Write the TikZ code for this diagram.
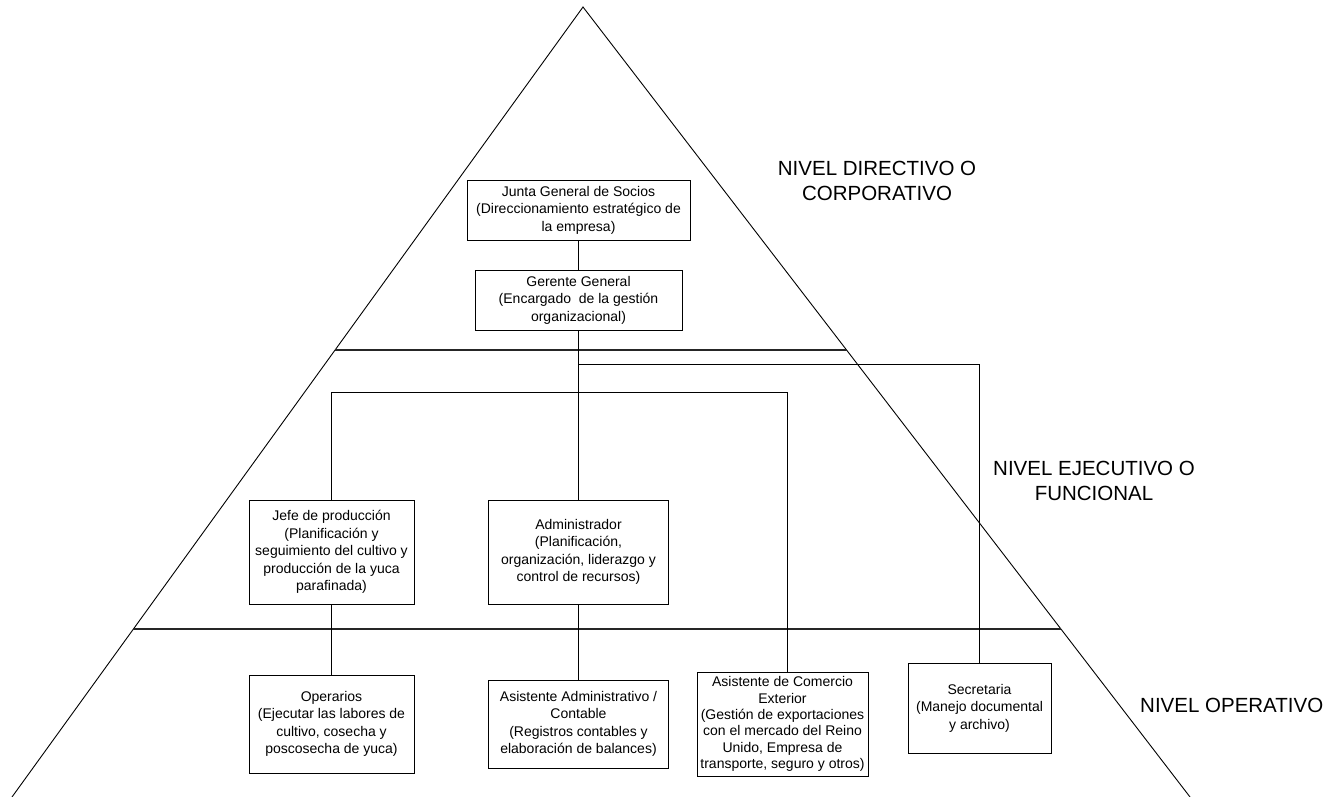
\documentclass[tikz,border=0pt]{standalone}
\usepackage{fontspec}
\setmainfont{Liberation Sans}
\usetikzlibrary{calc}
\begin{document}
\begin{tikzpicture}[x=1pt,y=-1pt,
  box/.style={draw=black, line width=0.9pt, fill=white, align=center, inner sep=0pt,
              font=\fontsize{14}{17.4}\selectfont},
  tightbox/.style={box, font=\fontsize{14}{16.4}\selectfont},
  link/.style={draw=black, line width=1pt},
  edge/.style={draw=black, line width=0.9pt},
  levelline/.style={draw=black!85, line width=1.1pt},
  level/.style={align=center, inner sep=0pt, font=\fontsize{20.5}{25.5}\selectfont}]

\useasboundingbox (0,0) rectangle (1327,797);

% pyramid outline
\coordinate (apex) at (583,7);
\coordinate (bl) at (12,797);
\coordinate (br) at (1190,797);
\draw[edge] (bl) -- (apex) -- (br);

% level separators, running between the two sides
\coordinate (l1a) at ($(apex)!0.4342!(bl)$);
\coordinate (l1b) at ($(apex)!0.4342!(br)$);
\coordinate (l2a) at ($(apex)!0.7873!(bl)$);
\coordinate (l2b) at ($(apex)!0.7873!(br)$);
\draw[levelline] (l1a) -- (l1b);
\draw[levelline] (l2a) -- (l2b);

% level names
\node[level] (lvdir) at (877,181) {NIVEL DIRECTIVO O\\CORPORATIVO};
\node[level] (lvejec) at (1094,481) {NIVEL EJECUTIVO O\\FUNCIONAL};
\node[level, anchor=west] (lvop) at (1140,705) {NIVEL OPERATIVO};

% positions
\node[box, minimum width=223pt, minimum height=60pt] (junta) at (578.5,210)
  {Junta General de Socios\\(Direccionamiento estratégico de\\la empresa)};
\node[box, minimum width=207pt, minimum height=60pt] (gerente) at (578.5,300)
  {Gerente General\\(Encargado\ \ de la gestión\\organizacional)};
\node[box, minimum width=165pt, minimum height=104pt] (jefe) at (331.5,552)
  {Jefe de producción\\(Planificación y\\seguimiento del cultivo y\\producción de la yuca\\parafinada)};
\node[box, minimum width=180pt, minimum height=104pt] (admin) at (578.5,552)
  {Administrador\\(Planificación,\\organización, liderazgo y\\control de recursos)};
\node[box, minimum width=165pt, minimum height=98pt] (operarios) at (331.5,724)
  {Operarios\\(Ejecutar las labores de\\cultivo, cosecha y\\poscosecha de yuca)};
\node[box, minimum width=180pt, minimum height=88pt] (asist) at (578.5,724)
  {Asistente Administrativo /\\Contable\\(Registros contables y\\elaboración de balances)};
\node[tightbox, minimum width=171pt, minimum height=104pt] (comercio) at (782.5,724)
  {Asistente de Comercio\\Exterior\\(Gestión de exportaciones\\con el mercado del Reino\\Unido, Empresa de\\transporte, seguro y otros)};
\node[box, minimum width=143pt, minimum height=90pt] (secretaria) at (979.5,708)
  {Secretaria\\(Manejo documental\\y archivo)};

% reporting lines
\coordinate (secbar) at (578.5,364);
\coordinate (bar) at (787,392);
\draw[link] (junta.south) -- (gerente.north);
\draw[link] (gerente.south) -- (admin.north);
\draw[link] (secbar) -| (secretaria.north);
\draw[link] (jefe.north) |- (bar) -- (bar |- comercio.north);
\draw[link] (jefe.south) -- (operarios.north);
\draw[link] (admin.south) -- (asist.north);
\end{tikzpicture}
\end{document}
